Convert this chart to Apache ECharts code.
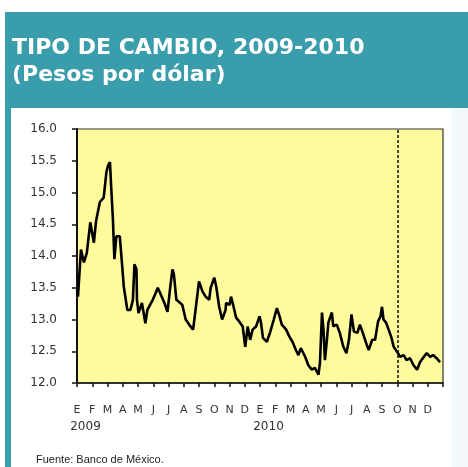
<!DOCTYPE html>
<html>
<head>
<meta charset="utf-8">
<script src="https://cdn.jsdelivr.net/npm/echarts@6/dist/echarts.min.js"></script>
<style>
html,body{margin:0;padding:0;background:#fff;}
#c{width:468px;height:467px;}
</style>
</head>
<body>
<div id="c"></div>
<script>
// Month tick labels (Spanish initials), one per month starting Jan 2009
const meses = ['E','F','M','A','M','J','J','A','S','O','N','D','E','F','M','A','M','J','J','A','S','O','N','D'];
const anios = ['2009', '2010'];
const yTicks = [12.0, 12.5, 13.0, 13.5, 14.0, 14.5, 15.0, 15.5, 16.0];
const fechaCorte = '2010-10-01';

// Exchange rate readings (pesos per dollar)
const fechas = [
 '2009-01-01','2009-01-03','2009-01-09','2009-01-15','2009-01-21','2009-01-28','2009-02-04','2009-02-08',
 '2009-02-15','2009-02-22','2009-02-27','2009-03-02','2009-03-06','2009-03-08','2009-03-12','2009-03-15',
 '2009-03-19','2009-03-26','2009-03-31','2009-04-03','2009-04-10','2009-04-16','2009-04-21','2009-04-24',
 '2009-04-28','2009-04-29','2009-05-02','2009-05-09','2009-05-16','2009-05-20','2009-05-31','2009-06-06',
 '2009-06-10','2009-06-16','2009-06-23','2009-06-29','2009-07-04','2009-07-09','2009-07-12','2009-07-17',
 '2009-07-22','2009-07-29','2009-08-05','2009-08-12','2009-08-20','2009-08-25','2009-09-01','2009-09-08',
 '2009-09-14','2009-09-21','2009-09-24','2009-10-01','2009-10-05','2009-10-11','2009-10-17','2009-10-24',
 '2009-10-25','2009-11-01','2009-11-04','2009-11-09','2009-11-14','2009-11-20','2009-11-27','2009-12-02',
 '2009-12-07','2009-12-12','2009-12-17','2009-12-24','2009-12-31','2010-01-03','2010-01-07','2010-01-15',
 '2010-01-22','2010-01-29','2010-02-04','2010-02-09','2010-02-13','2010-02-21','2010-02-27','2010-03-05',
 '2010-03-12','2010-03-17','2010-03-22','2010-03-31','2010-04-06','2010-04-13','2010-04-19','2010-04-26',
 '2010-04-29','2010-05-03','2010-05-06','2010-05-09','2010-05-13','2010-05-16','2010-05-23','2010-05-26',
 '2010-06-02','2010-06-08','2010-06-15','2010-06-21','2010-06-26','2010-07-01','2010-07-06','2010-07-13',
 '2010-07-18','2010-07-24','2010-08-01','2010-08-05','2010-08-12','2010-08-18','2010-08-24','2010-08-29',
 '2010-09-01','2010-09-04','2010-09-09','2010-09-14','2010-09-19','2010-09-24','2010-10-01','2010-10-07',
 '2010-10-14','2010-10-20','2010-10-27','2010-11-03','2010-11-10','2010-11-16','2010-11-23','2010-11-29',
 '2010-12-06','2010-12-12','2010-12-19','2010-12-26'
];
const tipoCambio = [
 13.47,13.36,14.10,13.90,14.05,14.53,14.21,14.55,
 14.85,14.92,15.32,15.42,15.48,15.16,14.58,13.95,
 14.31,14.31,13.83,13.52,13.15,13.15,13.31,13.87,
 13.79,13.31,13.10,13.26,12.94,13.15,13.31,13.42,
 13.50,13.39,13.26,13.12,13.47,13.79,13.71,13.31,
 13.28,13.23,13.00,12.92,12.84,13.15,13.60,13.44,
 13.36,13.31,13.50,13.66,13.52,13.20,13.00,13.15,
 13.26,13.23,13.36,13.20,13.03,12.97,12.89,12.57,
 12.89,12.68,12.84,12.89,13.05,12.95,12.71,12.65,
 12.81,13.00,13.18,13.05,12.92,12.84,12.73,12.65,
 12.52,12.44,12.55,12.41,12.28,12.21,12.24,12.13,
 12.32,13.11,12.84,12.36,12.68,12.95,13.11,12.89,
 12.92,12.79,12.57,12.47,12.68,13.08,12.81,12.79,
 12.92,12.79,12.60,12.52,12.68,12.68,12.97,13.05,
 13.20,13.00,12.95,12.84,12.73,12.57,12.49,12.41,
 12.44,12.36,12.39,12.28,12.21,12.33,12.41,12.47,
 12.41,12.44,12.39,12.33
];

// convert a date string to fractional months since Jan 2009
function mesIndice(s){
  const p = s.split('-').map(Number);
  const dim = new Date(p[0], p[1], 0).getDate();
  return (p[0]-2009)*12 + (p[1]-1) + (p[2]-1)/dim;
}
const serie = fechas.map((f,i)=>[mesIndice(f), tipoCambio[i]]);

const chart = echarts.init(document.getElementById('c'), null, {renderer:'canvas'});
const font = 'DejaVu Sans';
chart.setOption({
  animation:false,
  backgroundColor:'#ffffff',
  graphic:[
    {type:'rect', z:-10, shape:{x:5,y:12,width:470,height:460}, style:{fill:'#3a9dab'}},
    {type:'rect', z:-9, shape:{x:11,y:108,width:470,height:360}, style:{fill:'#ffffff'}},
    {type:'rect', z:-9, shape:{x:451,y:108,width:20,height:360}, style:{fill:'#f4fafb'}},
    {type:'text', left:12, top:37, style:{text:'TIPO DE CAMBIO, 2009-2010', fill:'#ffffff', font:'bold 22px "DejaVu Sans"'}},
    {type:'text', left:12, top:64, style:{text:'(Pesos por dólar)', fill:'#ffffff', font:'bold 22px "DejaVu Sans"'}},
    {type:'text', left:36, top:454, style:{text:'Fuente: Banco de México.', fill:'#222222', font:'11px "Liberation Sans"'}}
  ],
  grid:{left:77, top:129, width:366, height:254, show:true, backgroundColor:'#fffb9c', borderColor:'#333', borderWidth:1.2},
  xAxis:[{
    type:'value', min:0, max:24, interval:1,
    axisLine:{show:true, lineStyle:{color:'#111', width:1.5}},
    axisTick:{show:true, inside:false, length:4, lineStyle:{color:'#111', width:1.5}},
    splitLine:{show:false},
    axisLabel:{margin:22, fontFamily:font, fontSize:11, color:'#333',
      formatter:v=> (v>=0 && v<24) ? meses[v] : ''}
  },{
    type:'value', min:0, max:24, interval:12, position:'bottom',
    axisLine:{show:false}, axisTick:{show:false}, splitLine:{show:false},
    axisLabel:{margin:38, fontFamily:font, fontSize:12, color:'#333', padding:[0,0,0,17],
      formatter:v=> v===0 ? anios[0] : (v===12 ? anios[1] : '')}
  }],
  yAxis:{
    type:'value', min:yTicks[0], max:yTicks[yTicks.length-1], interval:0.5,
    axisLine:{show:true, lineStyle:{color:'#111', width:2}},
    axisTick:{show:true, length:5, lineStyle:{color:'#111', width:1.5}},
    splitLine:{show:false},
    axisLabel:{margin:20, fontFamily:font, fontSize:12, color:'#333', formatter:v=>v.toFixed(1)}
  },
  series:[{
    type:'line', data:serie, showSymbol:false, silent:true,
    lineStyle:{color:'#000', width:2.6}, 
    markLine:{silent:true, symbol:['none','none'], label:{show:false},
      lineStyle:{color:'#111', type:[3,2], width:1.5},
      data:[{xAxis: mesIndice(fechaCorte)}]}
  }]
});
</script>
</body>
</html>
